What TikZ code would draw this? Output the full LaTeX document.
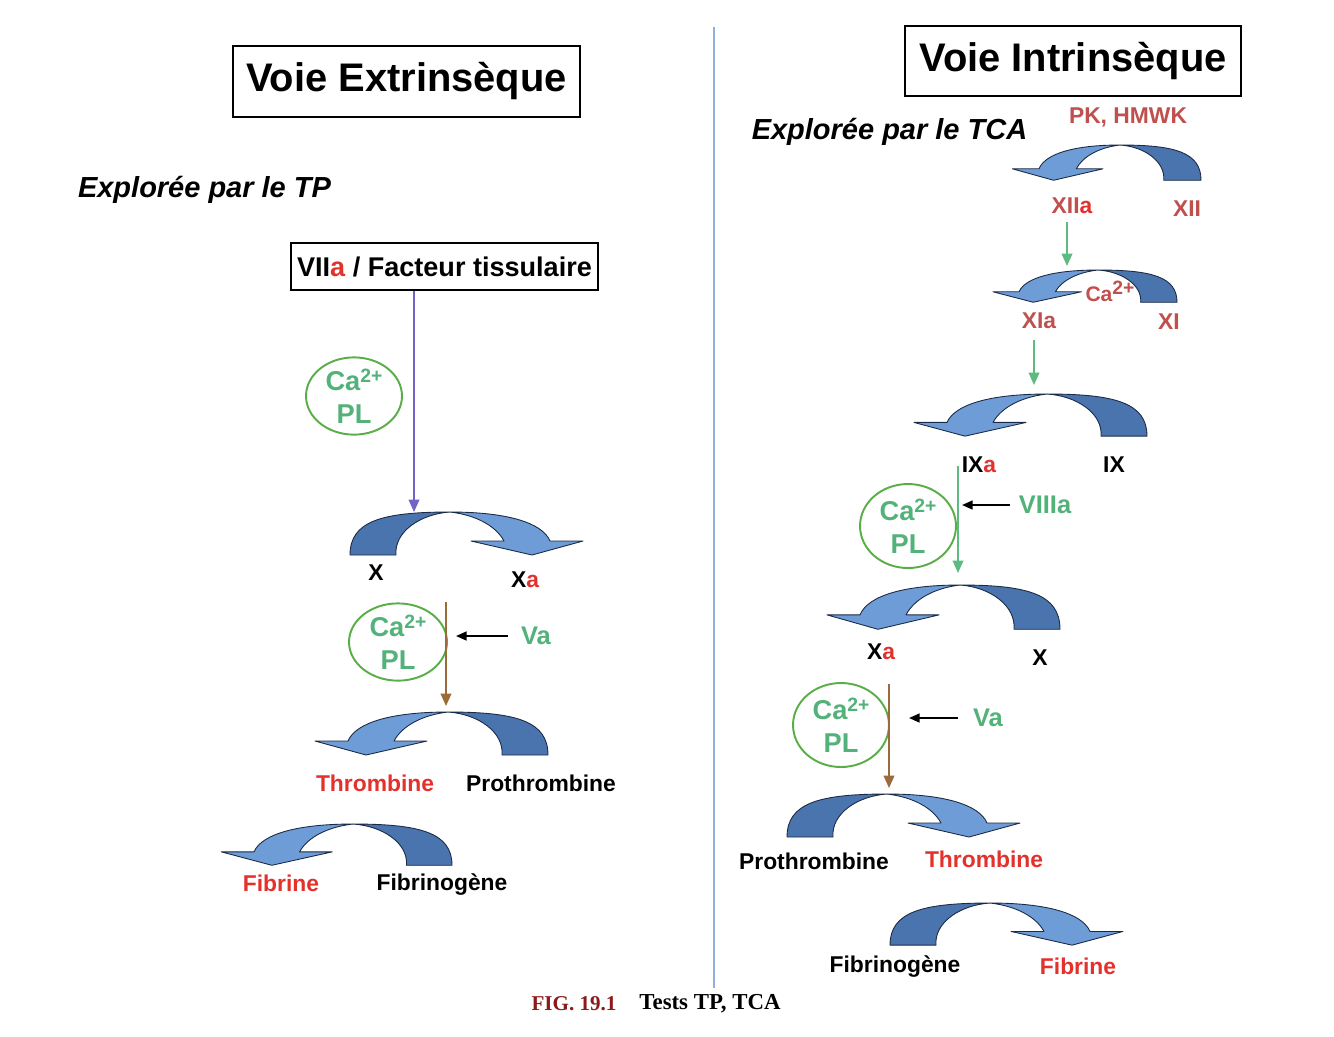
\documentclass[tikz,border=0pt]{standalone}
\usepackage{fontspec}
\setmainfont{Liberation Sans}
\newfontfamily\capfont{Liberation Serif}
\usetikzlibrary{arrows.meta,shapes.geometric}
\definecolor{tailc}{HTML}{4A74AE}
\definecolor{headc}{HTML}{6E9CD6}
\definecolor{edgec}{HTML}{1B2A45}
\definecolor{gtext}{HTML}{52B27A}
\definecolor{gcirc}{HTML}{5AAE48}
\definecolor{redA}{HTML}{E3312C}
\definecolor{dred}{HTML}{C0504D}
\definecolor{purp}{HTML}{7462C6}
\definecolor{brn}{HTML}{9C6B3A}
\definecolor{garr}{HTML}{5DBB82}
\definecolor{sepc}{HTML}{8FB0DE}
\definecolor{capred}{HTML}{8B1A1A}
\newcommand{\supr}[1]{\raisebox{0.6ex}{\fontsize{11}{11}\selectfont #1}}
\newcommand{\cvarrow}[5]{%
 \begin{scope}[shift={(#1,#2)},xscale=#3,yscale=#4]
  \filldraw[fill=tailc,draw=edgec,line width=0.5pt,line join=round]
    (0,0) .. controls (68,0) and (100,9) .. (100,43) -- (54,43)
    .. controls (56,20) and (30,2) .. (0,0) -- cycle;
  \filldraw[fill=headc,draw=edgec,line width=0.5pt,line join=round]
    (0,0) .. controls (-55,0) and (-92,10) .. (-100,29) -- (-133,29) -- (-82,43)
    -- (-21,29) -- (-54,29) .. controls (-46,14) and (-26,3) .. (0,0) -- cycle;
  \coordinate (#5) at (0,0);
 \end{scope}}
\tikzset{
 titlebox/.style={draw,line width=1.1pt,font=\fontsize{22.7}{26}\selectfont\bfseries,inner sep=0pt},
 explo/.style={font=\fontsize{16.5}{20}\selectfont\bfseries\itshape,inner sep=0pt},
 fbox/.style={draw,line width=1pt,font=\fontsize{15.4}{18}\selectfont\bfseries,inner sep=0pt,minimum width=6.14cm,minimum height=0.94cm},
 cabox/.style={ellipse,draw=gcirc,line width=1.1pt,text=gtext,inner sep=0pt,align=center,font=\fontsize{15.5}{18.5}\selectfont\bfseries},
 lab/.style={font=\fontsize{13}{15}\selectfont\bfseries,inner sep=0pt},
 glab/.style={font=\fontsize{14.5}{17}\selectfont\bfseries,text=gtext,inner sep=0pt},
 varrow/.style={line width=1pt,-{Triangle[length=7pt,width=6pt]}},
 karrow/.style={line width=1.1pt,black,-{Triangle[length=6pt,width=5pt]}},
 sepline/.style={draw=sepc,line width=1.2pt}
}
\begin{document}
\begin{tikzpicture}[x=0.02cm,y=-0.02cm]
\useasboundingbox (0,0) rectangle (1334,1036);
\fill[white] (0,0) rectangle (1334,1036);

% separator
\coordinate (sepT) at (714,27);
\coordinate (sepB) at (714,988);
\draw[sepline] (sepT) -- (sepB);

% ===== left: extrinsic =====
\node[titlebox,minimum width=6.94cm,minimum height=1.42cm] (extT) at (406.5,81.5) {Voie Extrinsèque};
\node[explo] (expTP) at (204.5,190) {Explorée par le TP};
\node[fbox] (vii) at (444.5,266.5) {VII\textcolor{redA}{a} / Facteur tissulaire};
\node[cabox,minimum width=1.92cm,minimum height=1.52cm] (c1) at (354,396) {Ca\supr{2+}\\PL};
\cvarrow{450}{512}{-1}{1}{a1}
\coordinate (p1) at (414,512);
\draw[varrow,purp] (vii.south -| p1) -- (p1);
\node[lab] (lX) at (376,573) {X};
\node[lab] (lXa) at (525,580) {X\textcolor{redA}{a}};
\node[cabox,minimum width=1.96cm,minimum height=1.48cm] (c2) at (398,642) {Ca\supr{2+}\\PL};
\coordinate (b1s) at (446,602);
\coordinate (b1e) at (446,706);
\draw[varrow,brn] (b1s) -- (b1e);
\node[glab] (va1) at (536,636) {Va};
\draw[karrow,shorten <=0.26cm,shorten >=0.2cm] (va1.west) -- (va1.west -| b1s);
\cvarrow{448}{712}{1}{1}{a2}
\node[lab,text=redA] (lThr) at (375,783) {Thrombine};
\node[lab] (lPro) at (541,783) {Prothrombine};
\cvarrow{353}{824}{0.99}{0.96}{a3}
\node[lab,text=redA] (lFib) at (281,883) {Fibrine};
\node[lab] (lFbg) at (442,885) {Fibrinogène};

% ===== right: intrinsic =====
\node[titlebox,minimum width=6.72cm,minimum height=1.40cm] (intT) at (1073,61) {Voie Intrinsèque};
\node[explo] (expTCA) at (889.5,132) {Explorée par le TCA};
\node[lab,text=dred] (pk) at (1128,117) {PK, HMWK};
\cvarrow{1120}{145}{0.81}{0.82}{a4}
\node[lab,text=dred] (xiia) at (1072,206) {XII\textcolor{redA}{a}};
\node[lab,text=dred] (xii) at (1187,209) {XII};
\coordinate (g1s) at (1067,222);
\coordinate (g1e) at (1067,266);
\draw[varrow,garr] (g1s) -- (g1e);
\cvarrow{1098}{270}{0.79}{0.75}{a5}
\node[lab,text=dred,font=\fontsize{12}{14}\selectfont\bfseries] (ca) at (1110,291) {Ca\supr{2+}};
\node[lab,text=dred] (xia) at (1039,321) {XIa};
\node[lab,text=dred] (xi) at (1169,322) {XI};
\coordinate (g2s) at (1034,340);
\coordinate (g2e) at (1034,385);
\draw[varrow,garr] (g2s) -- (g2e);
\cvarrow{1047}{394}{1}{0.98}{a6}
\node[lab] (ixa) at (979,465) {IX\textcolor{redA}{a}};
\node[lab] (ix) at (1114,465) {IX};
\coordinate (g3s) at (958,466);
\coordinate (g3e) at (958,573);
\draw[varrow,garr] (g3s) -- (g3e);
\node[cabox,minimum width=1.92cm,minimum height=1.68cm] (c3) at (908,526) {Ca\supr{2+}\\PL};
\node[glab] (viiia) at (1045,505) {VIIIa};
\draw[karrow,shorten <=0.16cm,shorten >=0.08cm] (viiia.west) -- (viiia.west -| g3s);
\cvarrow{960}{585}{1}{1.03}{a7}
\node[lab] (rxa) at (881,652) {X\textcolor{redA}{a}};
\node[lab] (rx) at (1040,658) {X};
\node[cabox,minimum width=1.92cm,minimum height=1.68cm] (c4) at (841,725) {Ca\supr{2+}\\PL};
\coordinate (b2s) at (889,684);
\coordinate (b2e) at (889,788);
\draw[varrow,brn] (b2s) -- (b2e);
\node[glab] (va2) at (988,718) {Va};
\draw[karrow,shorten <=0.3cm,shorten >=0.4cm] (va2.west) -- (va2.west -| b2s);
\cvarrow{887}{794}{-1}{1}{a8}
\node[lab] (rPro) at (814,861) {Prothrombine};
\node[lab,text=redA] (rThr) at (984,859) {Thrombine};
\cvarrow{990}{903}{-1}{0.98}{a9}
\node[lab] (rFbg) at (895,967) {Fibrinogène};
\node[lab,text=redA] (rFib) at (1078,966) {Fibrine};

% caption
\node[font=\capfont\fontsize{12}{14}\selectfont\bfseries,text=capred,inner sep=0pt] (figno) at (574,1004) {FIG. 19.1};
\node[font=\capfont\fontsize{13}{15}\selectfont\bfseries,inner sep=0pt] (figcap) at (710,1004) {Tests TP, TCA};
\end{tikzpicture}
\end{document}
